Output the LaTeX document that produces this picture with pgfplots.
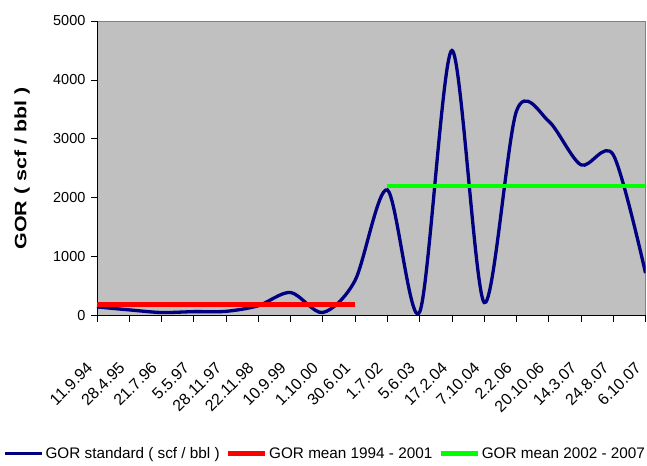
\documentclass[border=0pt]{standalone}
\usepackage{pgfplots}
\pgfplotsset{compat=1.18}
\usepackage{fontspec}
\setmainfont{Liberation Sans}
\definecolor{gornavy}{RGB}{0,0,128}
\definecolor{plotgray}{RGB}{192,192,192}
\definecolor{gorred}{RGB}{255,0,0}
\definecolor{gorgreen}{RGB}{0,255,0}

\begin{document}
\begin{tikzpicture}
  % page frame, same size as the reference
  \path (-97pt,-150pt) rectangle (550pt,316pt);
  \begin{axis}[
      at={(0pt,0pt)}, anchor=south west,
      scale only axis, width=549pt, height=295pt,
      xmin=0, xmax=17, ymin=0, ymax=5000,
      axis x line*=bottom, axis y line*=left,
      axis line style={black, line width=0.8pt, -},
      axis background/.style={fill=plotgray, draw=gray, line width=0.8pt},
      xtick={0,...,17},
      xticklabels={11.9.94, 28.4.95, 21.7.96, 5.5.97, 28.11.97, 22.11.98,
        10.9.99, 1.10.00, 30.6.01, 1.7.02, 5.6.03, 17.2.04, 7.10.04,
        2.2.06, 20.10.06, 14.3.07, 24.8.07, 6.10.07},
      ytick={0,1000,...,5000},
      tick align=outside, major tick length=6pt,
      tick style={black, line width=0.8pt},
      x tick label style={yshift=-41pt, xshift=-5pt, rotate=45, anchor=east,
        font=\fontsize{16}{18}\selectfont},
      y tick label style={font=\fontsize{14.5}{16}\selectfont},
      yticklabel shift=2pt,
      /pgf/number format/assume math mode=true,
      /pgf/number format/1000 sep={},
      scaled y ticks=false,
      ylabel={\scalebox{1.3}[1]{\bfseries GOR ( scf / bbl )}},
      ylabel style={at={(axis description cs:-0.1366,0.5)}, anchor=center,
        font=\fontsize{16.5}{18}\selectfont},
      legend style={at={(axis description cs:0.416,-0.468)}, anchor=center,
        draw=none, fill=none, legend columns=3, inner sep=0pt,
        font=\fontsize{15.3}{17}\selectfont,
        /tikz/every even column/.append style={column sep=4pt}},
      legend image code/.code={\draw[#1] (0pt,0pt) -- (37pt,0pt);},
    ]
    \addplot[gornavy, line width=3.3pt, smooth, tension=0.5] coordinates {
      (0,150) (1,100) (2,55) (3,70) (4,75) (5,170) (6,395) (7,55) (8,600)
      (9,2135) (10,60) (11,4500) (12,225) (13,3470) (14,3300) (15,2560)
      (16,2730) (17,724)
    };
    \addlegendentry{GOR standard ( scf / bbl )}
    \addplot[gorred, line width=4.5pt] coordinates {(0,190) (8,190)};
    \addlegendentry{GOR mean 1994 - 2001}
    \addplot[gorgreen, line width=4.5pt] coordinates {(9,2200) (17,2200)};
    \addlegendentry{GOR mean 2002 - 2007}
  \end{axis}
\end{tikzpicture}
\end{document}
